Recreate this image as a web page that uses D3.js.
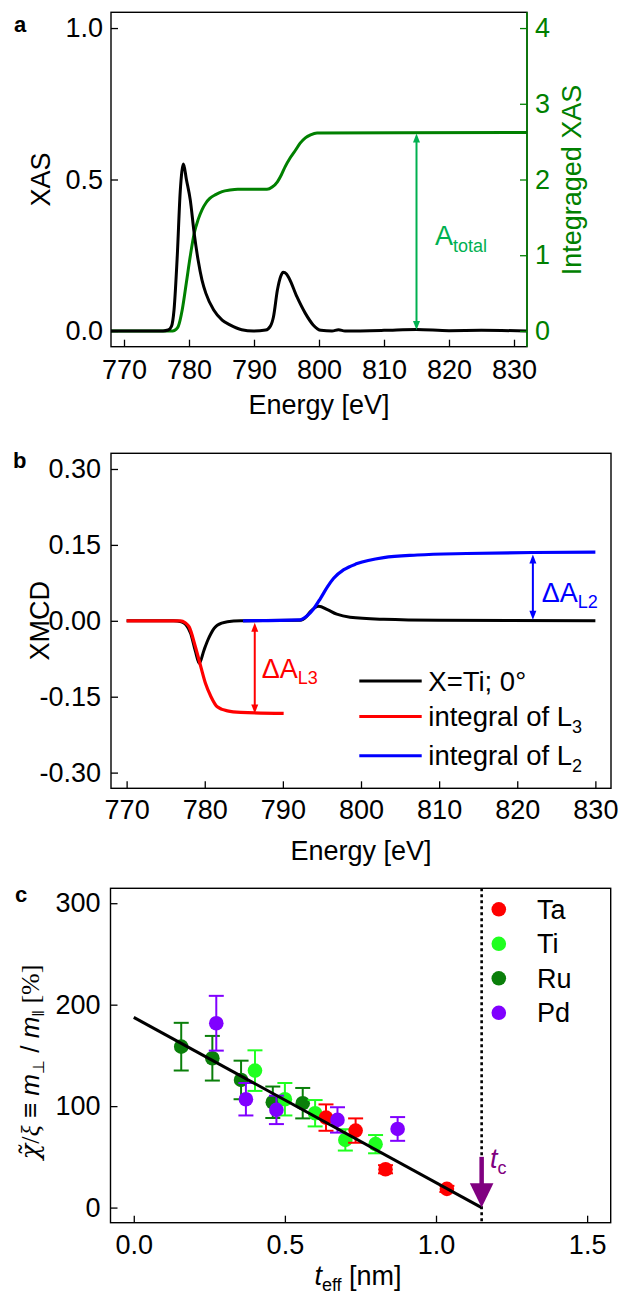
<!DOCTYPE html>
<html>
<head>
<meta charset="utf-8">
<script src="https://cdn.jsdelivr.net/npm/d3@7"></script>
<style>
  body { margin: 0; background: #fff; }
  svg { font-family: "Liberation Sans", Arial, sans-serif; }
</style>
</head>
<body>
<div id="chart"></div>
<script>
// ---- panel a: XAS spectrum and its integral ----
const xasE = [768, 776, 776.8, 777.3, 777.7, 778.2, 778.65, 779.15, 779.6, 780.2, 780.8, 781.4, 782.0, 782.6, 783.8, 785.1, 786.3, 788.1, 789.9, 791.8, 792.5, 793.0, 793.6, 794.1, 794.5, 795.0, 795.4, 796.6, 797.9, 799.1, 800.3, 802, 803, 804, 810, 815, 820, 825, 832];
const xasV = [0, 0, 0.003, 0.015, 0.07, 0.25, 0.46, 0.551, 0.50, 0.432, 0.322, 0.234, 0.168, 0.124, 0.069, 0.036, 0.020, 0.004, 0.0, 0.003, 0.015, 0.047, 0.135, 0.18, 0.194, 0.188, 0.174, 0.113, 0.058, 0.020, 0.002, 0.0, 0.004, 0.0, 0.002, 0.005, 0.001, 0.002, 0];
const intE = [768, 777.5, 778.0, 778.35, 778.96, 779.58, 780.18, 780.8, 781.4, 782.0, 782.6, 783.2, 784.1, 785.1, 786.3, 787.5, 792.0, 792.8, 793.6, 794.2, 794.8, 795.6, 796.4, 797.1, 797.9, 798.7, 799.7, 832];
const intV = [0, 0, 0.02, 0.06, 0.28, 0.63, 0.98, 1.29, 1.47, 1.60, 1.69, 1.75, 1.80, 1.84, 1.86, 1.87, 1.87, 1.90, 1.97, 2.06, 2.17, 2.29, 2.39, 2.48, 2.55, 2.59, 2.615, 2.62];
const aTotalAt = 815, aTotal = 2.62;

// ---- panel b: XMCD and integrals ----
const xmcdE = [770, 776, 777, 777.6, 778.2, 778.8, 779.3, 779.9, 780.4, 780.8, 781.6, 782.9, 784.6, 792.2, 793.0, 793.5, 794.6, 795.7, 796.9, 798.6, 802.9, 810, 830];
const xmcdV = [0, 0, -0.002, -0.008, -0.025, -0.06, -0.084, -0.058, -0.038, -0.025, -0.009, -0.002, 0, 0.001, 0.008, 0.018, 0.029, 0.022, 0.013, 0.007, 0.003, 0.001, 0];
const l3E = [770, 776.9, 777.5, 778.0, 778.8, 779.5, 780.1, 780.8, 781.6, 782.9, 784.6, 790.1];
const l3V = [0, 0, -0.004, -0.012, -0.051, -0.091, -0.124, -0.150, -0.170, -0.178, -0.181, -0.183];
const l2E = [784.9, 792.2, 793.1, 793.9, 794.8, 795.7, 796.5, 797.8, 799.5, 802.9, 807.2, 813.5, 822, 830];
const l2V = [0, 0.002, 0.01, 0.023, 0.044, 0.067, 0.084, 0.101, 0.113, 0.125, 0.130, 0.133, 0.135, 0.1356];
const dL3At = 786.4, dL3 = -0.181;
const dL2At = 822, dL2 = 0.135;
const bTicks = [-0.30, -0.15, 0, 0.15, 0.30];
const bTickLabels = ["-0.30", "-0.15", "0.00", "0.15", "0.30"];
const energyTicks = [770, 780, 790, 800, 810, 820, 830];

// ---- panel c: ratio vs thickness ----
const elements = ["Ta", "Ti", "Ru", "Pd"];
const taT = [0.636, 0.734, 0.833, 1.036], taV = [88.7, 75.9, 37.8, 18.4], taErr = [13, 12, 4, 3];
const tiT = [0.401, 0.500, 0.600, 0.700, 0.800], tiV = [135, 106.8, 93, 66.7, 62.5], tiErr = [20, 16, 13, 10.5, 9];
const ruT = [0.157, 0.260, 0.355, 0.460, 0.559], ruV = [158.6, 147.2, 125.8, 103.8, 102.9], ruErr = [23.5, 22, 19, 15.5, 15];
const pdT = [0.273, 0.371, 0.472, 0.674, 0.873], pdV = [181.7, 106.8, 96.3, 86.4, 77.5], pdErr = [27, 16, 14, 12.5, 11.7];
const fitT = [0, 1.151], fitV = [187.5, 0];
const tc = 1.151, tcArrowTop = 50, tcHead = 24;

const colors = {Ta: "#ff0000", Ti: "#1fff1f", Ru: "#0a7f0a", Pd: "#8000ff"};

const svg = d3.select("#chart").append("svg")
  .attr("width", 622).attr("height", 1301);

const FS = 27;

function styleAxis(g, color) {
  g.attr("font-size", FS).attr("font-family", "Liberation Sans, Arial, sans-serif");
  g.select(".domain").remove();
  g.selectAll(".tick line").attr("stroke", color).attr("stroke-width", 1.3);
  g.selectAll(".tick text").attr("fill", color);
}

function frame(x0, x1, y0, y1) {
  svg.append("rect")
    .attr("x", x0).attr("y", y0).attr("width", x1 - x0).attr("height", y1 - y0)
    .attr("fill", "none").attr("stroke", "#000").attr("stroke-width", 1.4);
}

function doubleArrow(x, ya, yb, color) {
  const top = Math.min(ya, yb), bot = Math.max(ya, yb);
  svg.append("line").attr("x1", x).attr("x2", x).attr("y1", top + 6).attr("y2", bot - 6)
    .attr("stroke", color).attr("stroke-width", 2);
  svg.append("path").attr("d", `M${x},${top} L${x - 3.5},${top + 9} L${x + 3.5},${top + 9} Z`).attr("fill", color);
  svg.append("path").attr("d", `M${x},${bot} L${x - 3.5},${bot - 9} L${x + 3.5},${bot - 9} Z`).attr("fill", color);
}

function zipLine(xs, ys, xScale, yScale) {
  return d3.line().x(d => xScale(d[0])).y(d => yScale(d[1])).curve(d3.curveMonotoneX)(xs.map((v, i) => [v, ys[i]]));
}

// ================= panel a =================
const xA = d3.scaleLinear().domain([768, 832]).range([111, 527]);
const yA = d3.scaleLinear().domain([-0.052, 1.052]).range([346.7, 12.3]);
const yA2 = d3.scaleLinear().domain([-0.208, 4.208]).range([346.7, 12.3]);

svg.append("path").attr("d", zipLine(intE, intV, xA, yA2))
  .attr("fill", "none").attr("stroke", "#008000").attr("stroke-width", 3);
svg.append("path").attr("d", zipLine(xasE, xasV, xA, yA))
  .attr("fill", "none").attr("stroke", "#000").attr("stroke-width", 3);

doubleArrow(xA(aTotalAt), yA2(aTotal) + 1, yA2(0) - 1, "#00b050");
svg.append("text").attr("x", 435).attr("y", 245).attr("font-size", FS).attr("fill", "#00b050")
  .text("A").append("tspan").attr("font-size", 18).attr("dy", 7).text("total");

frame(111, 527, 12.3, 346.7);
svg.append("line").attr("x1", 527).attr("x2", 527).attr("y1", 12.3).attr("y2", 346.7)
  .attr("stroke", "#008000").attr("stroke-width", 1.6);

svg.append("g").attr("transform", "translate(0,346.7)")
  .call(d3.axisBottom(xA).tickValues(energyTicks).tickSizeInner(-7).tickSizeOuter(0).tickPadding(13))
  .call(g => styleAxis(g, "#000"));
svg.append("g").attr("transform", "translate(111,0)")
  .call(d3.axisLeft(yA).tickValues([0, 0.5, 1]).tickFormat(d3.format(".1f")).tickSizeInner(-7).tickSizeOuter(0).tickPadding(8))
  .call(g => styleAxis(g, "#000"));
svg.append("g").attr("transform", "translate(527,0)")
  .call(d3.axisRight(yA2).tickValues([0, 1, 2, 3, 4]).tickFormat(d3.format("d")).tickSizeInner(-7).tickSizeOuter(0).tickPadding(8))
  .call(g => styleAxis(g, "#008000"));

svg.append("text").attr("x", 319).attr("y", 414).attr("text-anchor", "middle").attr("font-size", 27).text("Energy [eV]");
svg.append("text").attr("transform", "translate(50,179.5) rotate(-90)").attr("text-anchor", "middle").attr("font-size", 27).text("XAS");
svg.append("text").attr("transform", "translate(581,180) rotate(-90)").attr("text-anchor", "middle").attr("font-size", 27)
  .attr("fill", "#008000").text("Integraged XAS");
svg.append("text").attr("x", 14).attr("y", 32).attr("font-size", 22).attr("font-weight", "bold").text("a");

// ================= panel b =================
const xB = d3.scaleLinear().domain([768, 832]).range([111, 611]);
const yB = d3.scaleLinear().domain([-0.331, 0.331]).range([788.3, 453.3]);

svg.append("path").attr("d", zipLine(xmcdE, xmcdV, xB, yB))
  .attr("fill", "none").attr("stroke", "#000").attr("stroke-width", 3);
svg.append("path").attr("d", zipLine(l3E, l3V, xB, yB))
  .attr("fill", "none").attr("stroke", "#ff0000").attr("stroke-width", 3.2);
svg.append("path").attr("d", zipLine(l2E, l2V, xB, yB))
  .attr("fill", "none").attr("stroke", "#0000ff").attr("stroke-width", 3.2);

doubleArrow(xB(dL3At), yB(0) + 2, yB(dL3) + 1, "#ff0000");
doubleArrow(xB(dL2At), yB(dL2) + 2, yB(0) - 1, "#0000ff");
svg.append("text").attr("x", 261.7).attr("y", 678.3).attr("font-size", FS).attr("fill", "#ff0000")
  .text("ΔA").append("tspan").attr("font-size", 18).attr("dy", 6).text("L3");
svg.append("text").attr("x", 541.7).attr("y", 601.7).attr("font-size", FS).attr("fill", "#0000ff")
  .text("ΔA").append("tspan").attr("font-size", 18).attr("dy", 6).text("L2");

// legend b
const legB = [
  {c: "#000", main: "X=Ti; 0°", sub: "", y: 681},
  {c: "#ff0000", main: "integral of L", sub: "3", y: 716.5},
  {c: "#0000ff", main: "integral of L", sub: "2", y: 755.7}
];
legB.forEach(d => {
  svg.append("line").attr("x1", 359.3).attr("x2", 421.7).attr("y1", d.y).attr("y2", d.y)
    .attr("stroke", d.c).attr("stroke-width", 3);
  const t = svg.append("text").attr("x", 428.3).attr("y", d.y + 9.5).attr("font-size", 27.5).text(d.main);
  if (d.sub) t.append("tspan").attr("font-size", 18).attr("dy", 7).text(d.sub);
});

frame(111, 611, 453.3, 788.3);
svg.append("g").attr("transform", "translate(0,788.3)")
  .call(d3.axisBottom(xB).tickValues(energyTicks).tickSizeInner(-7).tickSizeOuter(0).tickPadding(12))
  .call(g => styleAxis(g, "#000"));
svg.append("g").attr("transform", "translate(111,0)")
  .call(d3.axisLeft(yB).tickValues(bTicks).tickFormat((d, i) => bTickLabels[i]).tickSizeInner(-7).tickSizeOuter(0).tickPadding(10))
  .call(g => styleAxis(g, "#000"));

svg.append("text").attr("x", 361).attr("y", 860).attr("text-anchor", "middle").attr("font-size", 27).text("Energy [eV]");
svg.append("text").attr("transform", "translate(49,620.8) rotate(-90)").attr("text-anchor", "middle").attr("font-size", 27).text("XMCD");
svg.append("text").attr("x", 13).attr("y", 468).attr("font-size", 22).attr("font-weight", "bold").text("b");

// ================= panel c =================
const xC = d3.scaleLinear().domain([-0.077, 1.578]).range([110.5, 610.7]);
const yC = d3.scaleLinear().domain([-14.9, 314.7]).range([1222.7, 888.3]);

// tc dotted line
svg.append("line").attr("x1", xC(tc)).attr("x2", xC(tc)).attr("y1", 888.3).attr("y2", 1222.7)
  .attr("stroke", "#000").attr("stroke-width", 2.6).attr("stroke-dasharray", "3,3");

const series = [
  {name: "Ru", t: ruT, v: ruV, e: ruErr},
  {name: "Ti", t: tiT, v: tiV, e: tiErr},
  {name: "Ta", t: taT, v: taV, e: taErr},
  {name: "Pd", t: pdT, v: pdV, e: pdErr}
];
series.forEach(s => {
  const pts = s.t.map((t, i) => ({t: t, v: s.v[i], e: s.e[i]}));
  const g = svg.append("g").attr("stroke", colors[s.name]).attr("fill", colors[s.name]).attr("stroke-width", 2);
  const eb = g.selectAll("g.eb").data(pts).enter().append("g");
  eb.append("line").attr("x1", d => xC(d.t)).attr("x2", d => xC(d.t))
    .attr("y1", d => yC(d.v + d.e)).attr("y2", d => yC(d.v - d.e));
  eb.append("line").attr("x1", d => xC(d.t) - 7.5).attr("x2", d => xC(d.t) + 7.5)
    .attr("y1", d => yC(d.v + d.e)).attr("y2", d => yC(d.v + d.e));
  eb.append("line").attr("x1", d => xC(d.t) - 7.5).attr("x2", d => xC(d.t) + 7.5)
    .attr("y1", d => yC(d.v - d.e)).attr("y2", d => yC(d.v - d.e));
  eb.append("circle").attr("cx", d => xC(d.t)).attr("cy", d => yC(d.v)).attr("r", 7.3).attr("stroke", "none");
});

// fit line
svg.append("path").attr("d", d3.line().x(d => xC(d[0])).y(d => yC(d[1]))(fitT.map((t, i) => [t, fitV[i]])))
  .attr("fill", "none").attr("stroke", "#000").attr("stroke-width", 3);

// tc arrow
const tx = xC(tc);
svg.append("line").attr("x1", tx).attr("x2", tx).attr("y1", yC(tcArrowTop)).attr("y2", yC(tcHead) + 2)
  .attr("stroke", "#800080").attr("stroke-width", 4.5);
svg.append("path").attr("d", `M${tx - 11.8},${yC(tcHead)} L${tx + 11.8},${yC(tcHead)} L${tx},${yC(0)} Z`).attr("fill", "#800080");
svg.append("text").attr("x", 490).attr("y", 1168.3).attr("font-size", FS).attr("fill", "#800080")
  .call(t => t.append("tspan").attr("font-style", "italic").text("t"))
  .call(t => t.append("tspan").attr("font-size", 18).attr("dy", 6).text("c"));

// legend c
elements.forEach((name, i) => {
  const y = 909.3 + i * 34.5;
  svg.append("circle").attr("cx", 498.8).attr("cy", y).attr("r", 7.3).attr("fill", colors[name]);
  svg.append("text").attr("x", 537).attr("y", y + 9.5).attr("font-size", 27).text(name);
});

frame(110.5, 610.7, 888.3, 1222.7);
svg.append("g").attr("transform", "translate(0,1222.7)")
  .call(d3.axisBottom(xC).tickValues([0, 0.5, 1, 1.5]).tickFormat(d3.format(".1f")).tickSizeInner(-7).tickSizeOuter(0).tickPadding(12))
  .call(g => styleAxis(g, "#000"));
svg.append("g").attr("transform", "translate(110.5,0)")
  .call(d3.axisLeft(yC).tickValues([0, 100, 200, 300]).tickSizeInner(-7).tickSizeOuter(0).tickPadding(10))
  .call(g => styleAxis(g, "#000"));

const xt = svg.append("text").attr("x", 358).attr("y", 1285).attr("text-anchor", "middle").attr("font-size", 27);
xt.append("tspan").attr("font-style", "italic").text("t");
xt.append("tspan").attr("font-size", 18).attr("dy", 6).text("eff");
xt.append("tspan").attr("dy", -6).text(" [nm]");

const yt = svg.append("text").attr("transform", "translate(39,1062) rotate(-90)").attr("text-anchor", "middle").attr("font-size", 26);
yt.append("tspan").attr("font-family", "DejaVu Serif, serif").attr("font-style", "italic").text("\u03C7\u0303");
yt.append("tspan").attr("font-family", "Liberation Serif, serif").text("/");
yt.append("tspan").attr("font-family", "Liberation Serif, serif").attr("font-style", "italic").text("\u03BE");
yt.append("tspan").text(" \u2261 ");
yt.append("tspan").attr("font-style", "italic").text("m");
yt.append("tspan").attr("font-size", 16).attr("dy", 5).text("\u22A5");
yt.append("tspan").attr("dy", -5).text(" / ");
yt.append("tspan").attr("font-style", "italic").text("m");
yt.append("tspan").attr("font-size", 16).attr("dy", 5).text("\u2016");
yt.append("tspan").attr("dy", -5).attr("font-family", "Liberation Serif, serif").text(" [%]");

svg.append("text").attr("x", 15).attr("y", 902).attr("font-size", 22).attr("font-weight", "bold").text("c");
</script>
</body>
</html>
